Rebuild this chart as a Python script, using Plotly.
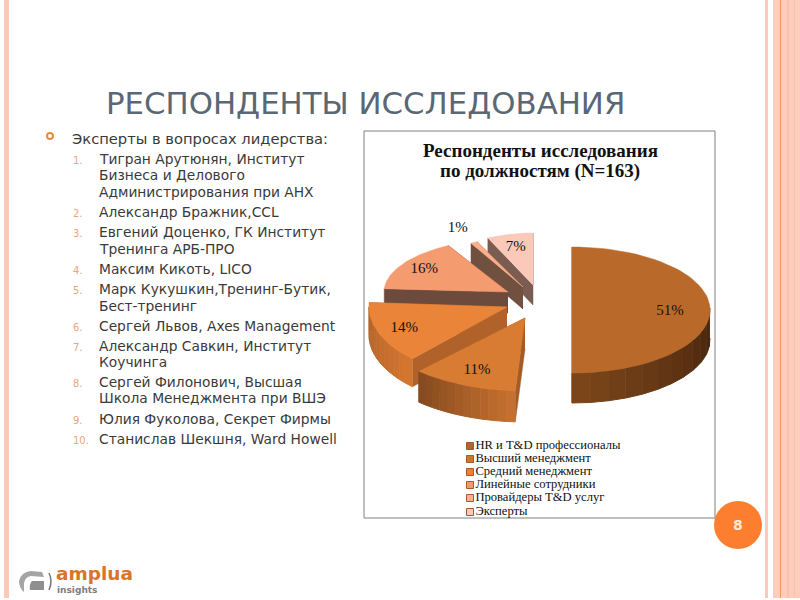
import numpy as np
import plotly.graph_objects as go

# ---------- data ----------
categories = ["HR и T&D профессионалы", "Высший менеджмент", "Средний менеджмент",
              "Линейные сотрудники", "Провайдеры T&D услуг", "Эксперты"]
shares = [51, 11, 14, 16, 1, 7]
chart_title_lines = ["<b>Респонденты исследования</b>", "<b>по должностям (N=163)</b>"]
slide_title = "РЕСПОНДЕНТЫ ИССЛЕДОВАНИЯ"
list_head = "Эксперты в вопросах лидерства:"
list_items = [
    (1, ["Тигран Арутюнян, Институт", "Бизнеса и Делового", "Администрирования при АНХ"]),
    (2, ["Александр Бражник,CCL"]),
    (3, ["Евгений Доценко, ГК Институт", "Тренинга АРБ-ПРО"]),
    (4, ["Максим Кикоть, LICO"]),
    (5, ["Марк Кукушкин,Тренинг-Бутик,", "Бест-тренинг"]),
    (6, ["Сергей Львов, Axes Management"]),
    (7, ["Александр Савкин, Институт", "Коучинга"]),
    (8, ["Сергей Филонович, Высшая", "Школа Менеджмента при ВШЭ"]),
    (9, ["Юлия Фуколова, Секрет Фирмы"]),
    (10, ["Станислав Шекшня, Ward Howell"]),
]
list_rows = [159, 175, 192, 212, 232, 249, 269, 289, 306, 326, 346, 362, 382, 398, 419, 439]

# ---------- styling / exploded-pie geometry ----------
top_colors = ["#b96a2b", "#d87c33", "#ea8439", "#f59b70", "#f9ae8c", "#fbc9ba"]
swatch_colors = ["#b5632a", "#d0762f", "#ee8030", "#f5996a", "#fbb090", "#fcc8b8"]
wall_from = ["#43230c", "#c8722f", "#d5762f", "#6c4a3c", "#6c4a3c", "#7a5c50"]
wall_to = ["#7d461a", "#83491f", "#b0622a", "#6c4a3c", "#6c4a3c", "#7a5c50"]
cut_colors = ["#7d461a", "#a35c26", "#b0622a", "#6c4a3c", "#70503f", "#7a5c50"]
apex = [(572, 310), (525, 318), (507, 307), (508, 292), (523, 287), (533, 285)]
radii = [(138, 63), (155, 73), (138, 71), (124, 53), (108, 50), (106, 52)]
angle_scale = [180 / 183.6, 1, 1, 1, 1, 1]
depth = [30, 31, 28, 21, 22, 20]
label_k = [0.71, 0.78, 0.80, 0.80, 1.33, 0.75]
draw_order = [5, 4, 3, 2, 0, 1]

bounds = np.cumsum([0] + shares) * 3.6


def point(i, deg):
    a = np.radians(deg * angle_scale[i])
    return (apex[i][0] + radii[i][0] * np.sin(a), apex[i][1] - radii[i][1] * np.cos(a))


def mix(c1, c2, t):
    p = [int(c1[k:k + 2], 16) for k in (1, 3, 5)]
    q = [int(c2[k:k + 2], 16) for k in (1, 3, 5)]
    return "rgb(%d,%d,%d)" % tuple(round(a + (b - a) * t) for a, b in zip(p, q))


fig = go.Figure()


def poly(xs, ys, color, width=0.5, name=None):
    fig.add_trace(go.Scatter(x=xs, y=ys, mode="lines", fill="toself", fillcolor=color,
                             line=dict(color=color, width=width), showlegend=False,
                             hoverinfo="skip" if name is None else "text", text=name))


for i in draw_order:
    a0, a1 = bounds[i], bounds[i + 1]
    d = depth[i]
    ax, ay = apex[i]
    # flat cut faces
    for edge in (a0, a1):
        px, py = point(i, edge)
        poly([ax, px, px, ax], [ay, py, py + d, ay + d], cut_colors[i])
    # curved outer wall, shaded in short runs
    lo, hi = max(a0, 90), min(a1, 270)
    if hi > lo:
        steps = np.linspace(lo, hi, 13)
        for k in range(12):
            seg = np.linspace(steps[k], steps[k + 1], 5)
            pts = [point(i, s) for s in seg]
            xs = [p[0] for p in pts]
            ys = [p[1] for p in pts]
            poly(xs + xs[::-1], ys + [y + d for y in ys[::-1]],
                 mix(wall_from[i], wall_to[i], (k + 0.5) / 12), width=1)
    # top face
    seg = np.linspace(a0, a1, 60)
    pts = [point(i, s) for s in seg]
    poly([ax] + [p[0] for p in pts] + [ax], [ay] + [p[1] for p in pts] + [ay],
         top_colors[i], name=f"{categories[i]}: {shares[i]}%")

# percent labels
lab_x, lab_y = [], []
for i in range(len(shares)):
    m = np.radians((bounds[i] + bounds[i + 1]) / 2)
    lab_x.append(apex[i][0] + label_k[i] * radii[i][0] * np.sin(m))
    lab_y.append(apex[i][1] - label_k[i] * radii[i][1] * np.cos(m))
fig.add_trace(go.Scatter(x=lab_x, y=lab_y, mode="text", text=[f"{s}%" for s in shares],
                         textfont=dict(family="Liberation Serif", size=15, color="#111111"),
                         showlegend=False, hoverinfo="skip"))

# legend rows
leg_y = [446, 459, 472, 485, 498, 512]
fig.add_trace(go.Scatter(x=[470] * 6, y=leg_y, mode="markers+text", text=categories,
                         textposition="middle right",
                         textfont=dict(family="Liberation Serif", size=12.6, color="#111111"),
                         marker=dict(symbol="square", size=7, color=swatch_colors,
                                     line=dict(color="#a8582a", width=1)),
                         showlegend=False, hoverinfo="skip"))

# bullet
fig.add_trace(go.Scatter(x=[50], y=[136], mode="markers",
                         marker=dict(symbol="circle-open", size=6, color="#f0883c",
                                     line=dict(width=2, color="#f0883c")),
                         showlegend=False, hoverinfo="skip"))

annots = []


def txt(x, y, s, size, color, family="DejaVu Sans", anchor="left"):
    annots.append(dict(x=x, y=y, xref="x", yref="y", text=s, showarrow=False, xanchor=anchor,
                       yanchor="middle", font=dict(family=family, size=size, color=color)))


txt(104, 103, slide_title, 30.8, "#5a6775")
txt(70, 138, list_head, 14.7, "#3a3a3a")
r = 0
for num, lines in list_items:
    txt(71, list_rows[r] + 1, f"{num}.", 10, "#e8a67c")
    for ln in lines:
        txt(97, list_rows[r], ln, 13.8, "#3a3a3a")
        r += 1
txt(540, 150, chart_title_lines[0], 19, "#111111", family="Liberation Serif", anchor="center")
txt(540, 171, chart_title_lines[1], 19, "#111111", family="Liberation Serif", anchor="center")
txt(738, 525, "<b>8</b>", 14, "#fde8d8", anchor="center")
txt(54, 573, "<b>amplua</b>", 18.5, "#d9742b")
txt(55, 590, "<b>insights</b>", 9, "#7d7d7d")
fig.update_layout(annotations=annots)

# slide furniture
shapes = [
    dict(type="rect", x0=364, y0=131, x1=715, y1=518, line=dict(color="#808080", width=1), layer="below"),
    dict(type="rect", x0=4, y0=0, x1=9, y1=598, fillcolor="#fcc8b8", line_width=0, layer="below"),
    dict(type="rect", x0=765, y0=0, x1=768, y1=598, fillcolor="#f8ccbc", line_width=0, layer="below"),
    dict(type="rect", x0=773, y0=0, x1=800, y1=598, fillcolor="#fecdbc", line_width=0, layer="below"),
    dict(type="rect", x0=787, y0=0, x1=789, y1=598, fillcolor="#f9c2ae", line_width=0, layer="below"),
    dict(type="rect", x0=794, y0=0, x1=795, y1=598, fillcolor="#f9c2ae", line_width=0, layer="below"),
    dict(type="line", x0=780.5, y0=0, x1=780.5, y1=598, line=dict(color="#ef9a5e", width=1), layer="below"),
    dict(type="circle", x0=714, y0=501, x1=762, y1=549, fillcolor="#fd7e2f", line_width=0),
    # logo mark
    dict(type="path", path="M 31 571 Q 21 572 19 581 Q 19 588 24 592 L 24 583 Q 25 577 31 576 L 44 577 L 42 572 Z",
         fillcolor="#a5a5a5", line_width=0),
    dict(type="path", path="M 32 581 L 44 581 L 44 590 L 30 590 Q 29 584 32 581 Z", fillcolor="#8f8f8f", line_width=0),
    dict(type="path", path="M 49 573 Q 53 581 49 590", line=dict(color="#777777", width=1.5)),
]
fig.update_layout(
    shapes=shapes, width=800, height=600, margin=dict(l=0, r=0, t=0, b=0),
    paper_bgcolor="white", plot_bgcolor="white", showlegend=False,
    xaxis=dict(range=[0, 800], visible=False, fixedrange=True),
    yaxis=dict(range=[600, 0], visible=False, fixedrange=True),
)
fig.write_html("out.html", config={"displayModeBar": False},
               post_script="document.body.style.margin='0';document.body.style.overflow='hidden';")
